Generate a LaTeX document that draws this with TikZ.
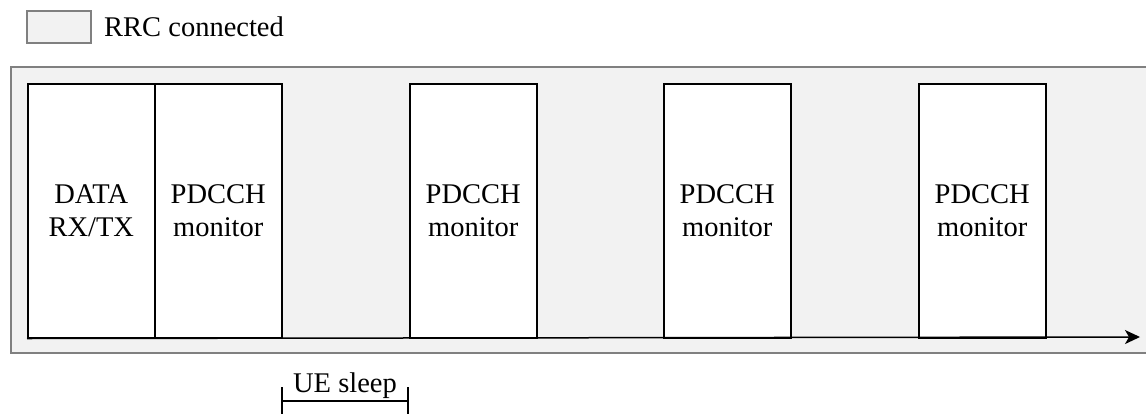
\documentclass[tikz,border=0pt]{standalone}
\usepackage{fontspec}
\setmainfont{Liberation Serif}
\usetikzlibrary{arrows.meta}
\definecolor{areafill}{HTML}{F2F2F2}
\definecolor{areaedge}{HTML}{808080}
\begin{document}
\begin{tikzpicture}[x=1pt,y=-1pt,
  lbl/.style={font=\fontsize{28.5}{33}\selectfont, inner sep=0pt},
  slot/.style={draw=black, line width=1.5pt, fill=white, minimum width=127pt,
    minimum height=254pt, inner sep=0pt, anchor=north west, align=center,
    font=\fontsize{28.5}{33}\selectfont},
  area/.style={draw=areaedge, line width=1.5pt, fill=areafill},
  bracket/.style={line width=1.5pt, draw=black},
  timetip/.style={-{Stealth[length=15pt 0, width=14pt 0, inset=4pt 0]}}]
\useasboundingbox (0,0) rectangle (1146,413);
\begin{scope}
\clip (0,0) rectangle (1146,413);
% connected-state background
\draw[area] (11,67) rectangle (1160,353);
\end{scope}
% legend
\draw[area] (27,11) rectangle (91,43);
\coordinate (key) at (91,27);
\node[lbl, anchor=base west] (keytxt) at (104,36) {RRC connected};
% activity slots
\node[slot] (data) at (27,83) {DATA\\RX/TX};
\node[slot] (mon1) at (154,83) {PDCCH\\monitor};
\node[slot] (mon2) at (409,83) {PDCCH\\monitor};
\node[slot] (mon3) at (663,83) {PDCCH\\monitor};
\node[slot] (mon4) at (918,83) {PDCCH\\monitor};
% time axis
\coordinate (tend) at (1140,337);
\draw[line width=1.5pt, timetip] (data.south west) -- (tend);
% sleep interval
\coordinate (s1) at (282,401);
\coordinate (s2) at (408,401);
\draw[bracket] (s1) -- (s2);
\draw[bracket] ([yshift=-15pt]s1) -- ([yshift=14pt]s1);
\draw[bracket] ([yshift=-15pt]s2) -- ([yshift=14pt]s2);
\node[lbl, anchor=base] (sleep) at (345,392) {UE sleep};
\end{tikzpicture}
\end{document}
